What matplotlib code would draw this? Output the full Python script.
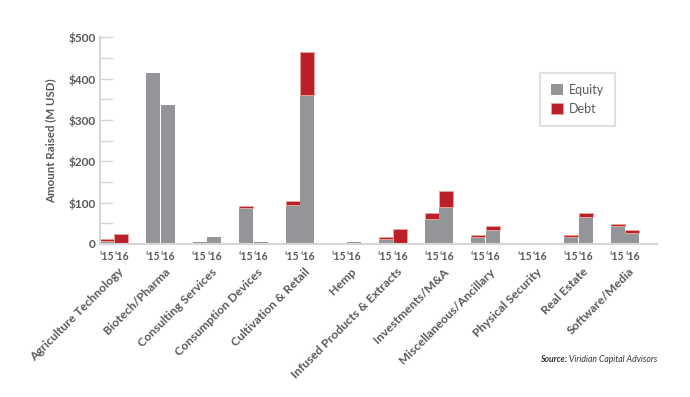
import matplotlib
matplotlib.use("Agg")
import matplotlib.pyplot as plt
from matplotlib.patches import Patch
import numpy as np

categories = ["Agriculture Technology", "Biotech/Pharma", "Consulting Services",
              "Consumption Devices", "Cultivation & Retail", "Hemp",
              "Infused Products & Extracts", "Investments/M&A",
              "Miscellaneous/Ancillary", "Physical Security", "Real Estate",
              "Software/Media"]
equity_15 = [7, 413, 4, 86, 94, 0, 13, 60, 18, 0, 18, 44]
debt_15   = [5, 0, 0, 6, 10, 0, 4, 16, 4, 3, 3, 4]
equity_16 = [0, 336, 17, 6, 361, 5, 0, 89, 35, 0, 66, 27]
debt_16   = [23, 0, 0, 0, 104, 0, 37, 39, 8, 0, 9, 8]
year_labels = ["\u201815", "\u201816"]
yticks = [0, 100, 200, 300, 400, 500]
ytick_labels = ["0", "$100", "$200", "$300", "$400", "$500"]

GRAY = "#939598"
RED = "#ba1f2a"
REDEDGE = "#e6a396"
TXT = "#58595b"
SPINE = "#d6d6d6"
FONT = "Lato"

fig = plt.figure(figsize=(6.9, 3.97), dpi=100)
ax = fig.add_axes([100/690, 1-244/397, (657-100)/690, (244-37.3)/397])

x = np.arange(len(categories))
w = 0.30
off = 0.155
x15 = x - off
x16 = x + off

def lw(vals):
    return [0.7 if v > 0 else 0 for v in vals]

ax.bar(x15, equity_15, w, color=GRAY, linewidth=0)
ax.bar(x15, debt_15, w, bottom=equity_15, color=RED, edgecolor=REDEDGE, linewidth=lw(debt_15))
ax.bar(x16, equity_16, w, color=GRAY, linewidth=0)
ax.bar(x16, debt_16, w, bottom=equity_16, color=RED, edgecolor=REDEDGE, linewidth=lw(debt_16))

ax.set_xlim(-0.305, 11.69)
ax.set_ylim(0, 500)

for s in ["top", "right"]:
    ax.spines[s].set_visible(False)
for s in ["left", "bottom"]:
    ax.spines[s].set_color(SPINE)
    ax.spines[s].set_linewidth(1.5)

ax.set_yticks(yticks)
ax.set_yticklabels(ytick_labels)
ax.set_yticks(np.arange(50, 500, 100), minor=True)
ax.tick_params(axis="y", which="both", direction="in", length=9, width=1, color=SPINE,
               pad=3, labelsize=8.5, labelcolor=TXT)
for t in ax.get_yticklabels():
    t.set_fontfamily(FONT)
    t.set_fontweight("bold")

ax.set_xticks([])
ax.tick_params(axis="x", length=0)

ax.set_ylabel("Amount Raised (M USD)", fontsize=8.3, color=TXT, fontweight="bold",
              fontfamily=FONT, labelpad=9)

trans = ax.get_xaxis_transform()
y_year = (244 - 257) / (244 - 37.3)
y_cat = (244 - 266) / (244 - 37.3)
for i, c in enumerate(categories):
    ax.text(x15[i] - 0.01, y_year, year_labels[0], transform=trans, ha="center", va="center",
            fontsize=7.6, color=TXT, fontfamily=FONT, fontweight="bold")
    ax.text(x16[i] + 0.01, y_year, year_labels[1], transform=trans, ha="center", va="center",
            fontsize=7.6, color=TXT, fontfamily=FONT, fontweight="bold")
    ax.text(x[i] + 0.08, y_cat, c, transform=trans, ha="right", va="top",
            rotation=45, rotation_mode="anchor", fontsize=8.7, color=TXT,
            fontfamily=FONT, fontweight="bold")

handles = [Patch(facecolor=GRAY, edgecolor="none", label="Equity"),
           Patch(facecolor=RED, edgecolor=REDEDGE, linewidth=0.7, label="Debt")]
leg = ax.legend(handles=handles, loc="upper left",
                bbox_to_anchor=((540-100)/557, 1-(72.7-37.3)/206.7),
                frameon=True, fancybox=False, fontsize=9, handlelength=0.9,
                handleheight=0.9, handletextpad=0.5, borderpad=0.9,
                labelspacing=0.55, borderaxespad=0)
leg.get_frame().set_edgecolor("#d9d9d9")
leg.get_frame().set_linewidth(1.5)
for t in leg.get_texts():
    t.set_color(TXT)
    t.set_fontfamily(FONT)

src = fig.text(657/690, 1-359/397, " Viridian Capital Advisors", ha="right",
               va="center", fontsize=6.2, color="#333333", fontstyle="italic",
               fontfamily=FONT)
fig.canvas.draw()
bb = src.get_window_extent()
fig.text(bb.x0/690, 1-359/397, "Source:", ha="right", va="center", fontsize=6.2,
         color="#333333", fontstyle="italic", fontweight="bold", fontfamily=FONT)

fig.savefig("out.png", dpi=100)
